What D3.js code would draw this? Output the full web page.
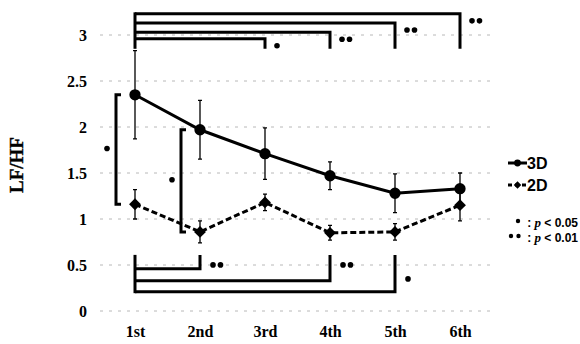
<!DOCTYPE html>
<html>
<head>
<meta charset="utf-8">
<script src="https://cdn.jsdelivr.net/npm/d3@7"></script>
<style>
  body { margin: 0; background: #fff; }
  svg { display: block; }
</style>
</head>
<body>
<svg id="chart" width="580" height="344"></svg>
<script>
// sessions and LF/HF values
const sessions = ['1st', '2nd', '3rd', '4th', '5th', '6th'];
const mean3D = [2.35, 1.97, 1.71, 1.47, 1.28, 1.33];
const err3D  = [0.48, 0.32, 0.28, 0.15, 0.21, 0.17];
const mean2D = [1.16, 0.86, 1.18, 0.85, 0.86, 1.15];
const err2D  = [0.16, 0.12, 0.09, 0.08, 0.09, 0.17];
const yTicks = [0, 0.5, 1, 1.5, 2, 2.5, 3];

// 3D: 1st session vs later sessions (drawn above); stars = number of dots
const topTests = [
  { to: 5, level: 3.23, stars: 2 },
  { to: 4, level: 3.13, stars: 2 },
  { to: 3, level: 3.03, stars: 2 },
  { to: 2, level: 2.96, stars: 1 }
];
// 2D: 1st session vs later sessions (drawn below)
const bottomTests = [
  { to: 1, level: 0.46, stars: 2 },
  { to: 3, level: 0.33, stars: 2 },
  { to: 4, level: 0.21, stars: 1 }
];
// 3D vs 2D within a session
const pairTests = [
  { at: 0, stars: 1 },
  { at: 1, stars: 1 }
];

const svg = d3.select('#chart');
const serif = '"Liberation Serif", "Times New Roman", serif';
const sans = '"Liberation Sans", Arial, sans-serif';

const x = d3.scalePoint().domain(sessions).range([135, 460]);
const y = d3.scaleLinear().domain([0, 3]).range([311, 35]);

// grid lines
svg.append('g').selectAll('line')
  .data(yTicks)
  .enter().append('line')
  .attr('x1', 100).attr('x2', 490)
  .attr('y1', d => y(d)).attr('y2', d => y(d))
  .attr('stroke', '#b8b8b8')
  .attr('stroke-width', 1)
  .attr('stroke-dasharray', '3,6');

// y axis labels
const yAxis = svg.append('g')
  .attr('transform', 'translate(92,0)')
  .call(d3.axisLeft(y).tickValues(yTicks).tickSize(0).tickPadding(5).tickFormat(d3.format('')));
yAxis.select('.domain').remove();
yAxis.selectAll('text')
  .attr('font-family', serif).attr('font-weight', 'bold').attr('font-size', 16).attr('fill', '#000');

// x axis labels
const xAxis = svg.append('g')
  .attr('transform', 'translate(0,324)')
  .call(d3.axisBottom(x).tickSize(0).tickPadding(2));
xAxis.select('.domain').remove();
xAxis.selectAll('text')
  .attr('font-family', serif).attr('font-weight', 'bold').attr('font-size', 16).attr('fill', '#000');

svg.append('text')
  .attr('transform', 'translate(23,165) rotate(-90)')
  .attr('text-anchor', 'middle')
  .attr('font-family', serif).attr('font-weight', 'bold').attr('font-size', 19)
  .attr('stroke', '#000').attr('stroke-width', 0.4)
  .text('LF/HF');

// significance dots
function stars(n, cx, cy, r = 2.8) {
  d3.range(n).forEach(k => {
    svg.append('circle').attr('cx', cx + k * 7.5).attr('cy', cy).attr('r', r).attr('fill', '#000');
  });
}

// significance brackets
const br = svg.append('g').attr('fill', 'none').attr('stroke', '#000').attr('stroke-width', 3);
const x0 = x(sessions[0]);
const topDrop = 2.85, bottomRise = 0.61;

br.append('line').attr('x1', x0).attr('x2', x0)
  .attr('y1', y(d3.max(topTests, d => d.level)) - 1.5).attr('y2', y(topDrop));
topTests.forEach(t => {
  const xe = x(sessions[t.to]);
  br.append('path').attr('d', `M${x0},${y(t.level)}H${xe}V${y(topDrop)}`);
  stars(t.stars, xe + 12, y(t.level) + 7);
});
br.append('line').attr('x1', x0).attr('x2', x0)
  .attr('y1', y(bottomRise)).attr('y2', y(d3.min(bottomTests, d => d.level)) + 1.5);
bottomTests.forEach((t, i) => {
  const xe = x(sessions[t.to]);
  br.append('path').attr('d', `M${x0},${y(t.level)}H${xe}V${y(bottomRise)}`);
  stars(t.stars, xe + 13, y(bottomRise) + (i === 2 ? 24 : 10));
});
pairTests.forEach(t => {
  const xb = x(sessions[t.at]) - 19;
  br.append('path')
    .attr('d', `M${xb + 5},${y(mean3D[t.at])}H${xb}V${y(mean2D[t.at])}H${xb + 5}`);
  stars(t.stars, x(sessions[t.at]) - 28, y((mean3D[t.at] + mean2D[t.at]) / 2) - 1);
});

// series
const diamond = d3.symbol().type(d3.symbolSquare).size(70);
function drawSeries(means, errs, dashed, isCircle) {
  const g = svg.append('g');
  g.selectAll('.err')
    .data(means)
    .enter().append('path')
    .attr('d', (d, i) => {
      const cx = x(sessions[i]), t = y(d + errs[i]), b = y(d - errs[i]);
      return `M${cx - 2},${t}H${cx + 2}M${cx},${t}V${b}M${cx - 2},${b}H${cx + 2}`;
    })
    .attr('stroke', '#000').attr('stroke-width', 1.3).attr('fill', 'none');
  g.append('path')
    .datum(means)
    .attr('d', d3.line().x((d, i) => x(sessions[i])).y(d => y(d)))
    .attr('fill', 'none').attr('stroke', '#000').attr('stroke-width', 3)
    .attr('stroke-dasharray', dashed ? '6,3' : null);
  g.selectAll('.pt')
    .data(means)
    .enter().append('path')
    .attr('transform', (d, i) => `translate(${x(sessions[i])},${y(d)})` + (isCircle ? '' : ' rotate(45)'))
    .attr('d', isCircle ? d3.symbol().type(d3.symbolCircle).size(100)() : diamond())
    .attr('fill', '#000');
}
drawSeries(mean2D, err2D, true, false);
drawSeries(mean3D, err3D, false, true);

// legend
const legendItems = [
  { label: '3D', dashed: false, circle: true },
  { label: '2D', dashed: true, circle: false }
];
const lg = svg.append('g').attr('transform', 'translate(508,163)');
legendItems.forEach((d, i) => {
  const row = lg.append('g').attr('transform', `translate(0,${i * 22})`);
  row.append('line').attr('x1', 0).attr('x2', 19)
    .attr('stroke', '#000').attr('stroke-width', 3)
    .attr('stroke-dasharray', d.dashed ? '4,3' : null);
  row.append('path').attr('transform', 'translate(9.5,0)' + (d.circle ? '' : ' rotate(45)'))
    .attr('d', d3.symbol().type(d.circle ? d3.symbolCircle : d3.symbolSquare).size(d.circle ? 36 : 28)())
    .attr('fill', '#000');
  row.append('text').attr('x', 19).attr('y', 6)
    .attr('font-family', sans).attr('font-weight', 'bold').attr('font-size', 16)
    .text(d.label);
});

const pLegend = [
  { n: 1, p: '0.05' },
  { n: 2, p: '0.01' }
];
pLegend.forEach((d, i) => {
  const yy = 227 + i * 15;
  svg.append('text')
    .attr('x', 578).attr('y', yy)
    .attr('text-anchor', 'end')
    .attr('font-family', sans).attr('font-weight', 'bold').attr('font-size', 12)
    .call(t => {
      t.append('tspan').text(': ');
      t.append('tspan').attr('font-family', serif).attr('font-style', 'italic').attr('font-size', 13).text('p');
      t.append('tspan').text(' < ' + d.p);
    });
  stars(d.n, d.n === 1 ? 518 : 511, yy - 6, 2.2);
});
</script>
</body>
</html>
